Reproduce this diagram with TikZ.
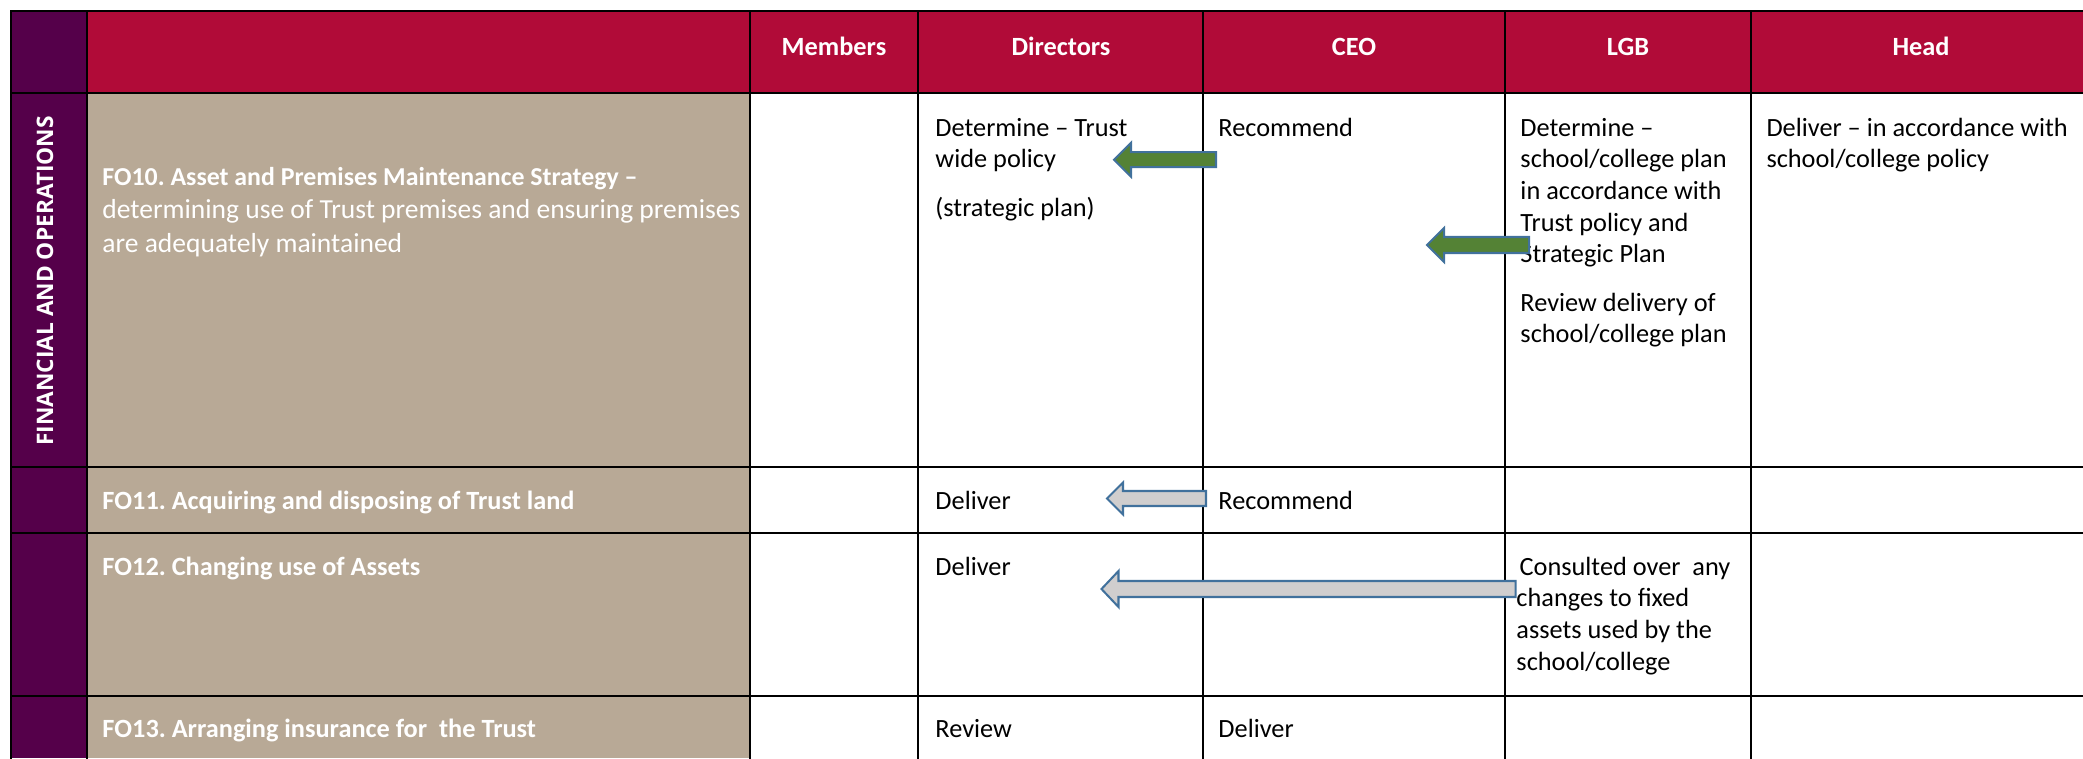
\documentclass[tikz,border=0pt]{standalone}
\usepackage{fontspec}
\setmainfont{Carlito}
\newfontfamily\sidefont{Open Sans}
\usetikzlibrary{calc}
\frenchspacing
\definecolor{sidepurple}{RGB}{85,0,74}
\definecolor{headred}{RGB}{177,11,56}
\definecolor{taskbeige}{RGB}{184,169,150}
\definecolor{arrowgreen}{RGB}{84,130,53}
\definecolor{arrowgrey}{RGB}{208,206,206}
\definecolor{arrowedge}{RGB}{65,113,156}
\newcommand\celltxt[1]{\parbox[t]{400pt}{\raggedright #1}}
\newcommand\blockarrow[6]{%
  \draw[#1] (#2) -- ($(#2)+(#4,-#5)$) -- ($(#2)+(#4,-#6)$) -- ($(#3)+(0,-#6)$)
    -- ($(#3)+(0,#6)$) -- ($(#2)+(#4,#6)$) -- ($(#2)+(#4,#5)$) -- cycle;}
\begin{document}
\begin{tikzpicture}[x=0.418pt,y=-0.418pt,
  grid/.style={line width=0.8pt,black},
  headtxt/.style={anchor=base,inner sep=0pt,text=white,font=\fontsize{11}{13.25}\selectfont\bfseries},
  cell/.style={anchor=base west,inner sep=0pt,font=\fontsize{11}{13.25}\selectfont},
  tasktxt/.style={cell,text=white},
  greenarrow/.style={fill=arrowgreen,draw=arrowedge,line width=0.85pt,line join=miter},
  greyarrow/.style={fill=arrowgrey,draw=arrowedge,line width=0.85pt,line join=miter}]
\useasboundingbox (0,0) rectangle (2083,758);
\fill[white] (0,0) rectangle (2083,758);
% backgrounds
\fill[sidepurple] (11,11) rectangle (87,758);
\fill[headred] (87,11) rectangle (2083,93);
\fill[taskbeige] (87,93) rectangle (750,758);
% grid
\draw[grid] (2095,11) -- (11,11) -- (11,770);
\foreach \y in {93,467,533,696} \draw[grid] (11,\y) -- (2095,\y);
\foreach \x in {87,750,918,1203,1505,1751} \draw[grid] (\x,11) -- (\x,770);
% side label
\node[rotate=90,inner sep=0pt,text=white,font=\sidefont\fontsize{9.5}{11}\selectfont\bfseries] (side) at (45,281) {FINANCIAL AND OPERATIONS};
% header
\node[headtxt] (hmem) at (834,55.5) {Members};
\node[headtxt] (hdir) at (1061,55.5) {Directors};
\node[headtxt] (hceo) at (1354,55.5) {CEO};
\node[headtxt] (hlgb) at (1628,55.5) {LGB};
\node[headtxt] (hhead) at (1921,55.5) {Head};
% FO10
\node[tasktxt,font=\fontsize{11.5}{14.2}\selectfont] (t10) at (102,185) {\celltxt{{\fontsize{10.8}{14.2}\selectfont\bfseries FO10. Asset and Premises Maintenance Strategy –}\\ determining use of Trust premises and ensuring premises\\ are adequately maintained}};
\node[cell] (d10) at (935,136) {\celltxt{Determine – Trust\\ wide policy\\[7pt] (strategic plan)}};
\node[cell] (c10) at (1218,136) {Recommend};
\node[cell] (l10) at (1520,136) {\celltxt{Determine –\\ school/college plan\\ in accordance with\\ Trust policy and\\ Strategic Plan\\[7pt] Review delivery of\\ school/college plan}};
\node[cell] (h10) at (1766,136) {\celltxt{Deliver – in accordance with\\ school/college policy}};
% FO11
\node[tasktxt] (t11) at (102,509) {\textbf{FO11. Acquiring and disposing of Trust land}};
\node[cell] (d11) at (935,509) {Deliver};
\node[cell] (c11) at (1218,509) {Recommend};
% FO12
\node[tasktxt] (t12) at (102,575) {\textbf{FO12. Changing use of Assets}};
\node[cell] (d12) at (935,575) {Deliver};
\node[cell] (l12) at (1516,575) {\celltxt{\hspace{1.3pt}Consulted over~ any\\ changes to fixed\\ assets used by the\\ school/college}};
% FO13
\node[tasktxt] (t13) at (102,737) {\textbf{FO13. Arranging insurance for~ the Trust}};
\node[cell] (d13) at (935,737) {Review};
\node[cell] (c13) at (1218,737) {Deliver};
% arrows
\coordinate (g1tip) at (1114,159.7); \coordinate (g1tail) at (1216,159.7);
\coordinate (g2tip) at (1427,245);   \coordinate (g2tail) at (1529,245);
\coordinate (r1tip) at (1107,498.5); \coordinate (r1tail) at (1206,498.5);
\coordinate (r2tip) at (1101.5,589); \coordinate (r2tail) at (1515.5,589);
\blockarrow{greenarrow}{g1tip}{g1tail}{17}{17}{7.5}
\blockarrow{greenarrow}{g2tip}{g2tail}{17}{17}{8}
\blockarrow{greyarrow}{r1tip}{r1tail}{16}{16}{7.5}
\blockarrow{greyarrow}{r2tip}{r2tail}{17}{18}{8}
\end{tikzpicture}
\end{document}
